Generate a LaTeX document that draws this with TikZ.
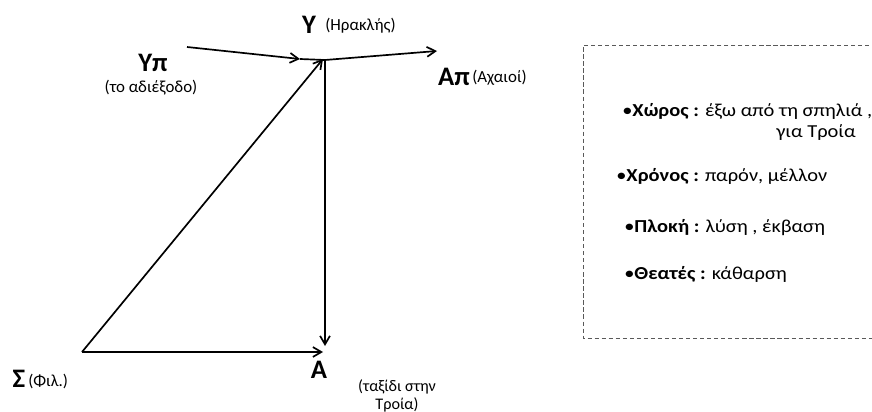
\documentclass[tikz,border=0pt]{standalone}
\usepackage{fontspec}
\setmainfont{Carlito}
\newfontfamily\boxfont[FakeStretch=1.12]{Carlito}
\usetikzlibrary{arrows.meta}
\begin{document}
\begin{tikzpicture}[x=0.025cm,y=-0.025cm,
  big/.style={font=\fontsize{19}{21}\selectfont\bfseries,inner sep=0pt},
  note/.style={font=\fontsize{12}{14}\selectfont,inner sep=0pt},
  item/.style={font=\boxfont\fontsize{13}{15}\selectfont,inner sep=0pt,anchor=west},
  ln/.style={line width=1.2pt},
  arr/.style={ln,-{Straight Barb[length=6pt,width=7pt,line width=1.2pt]}}]
\useasboundingbox (0,0) rectangle (872,412);
% points of the diagram
\coordinate (Y0) at (325,60);
\coordinate (S0) at (82,352);
\coordinate (A0) at (325,346);
\coordinate (A1) at (323,352);
\coordinate (Y1) at (323,59);
\coordinate (P0) at (187,47);
\coordinate (P1) at (300,59);
\coordinate (AP0) at (437,51);
% labels
\node[big] (y) at (309,25) {Υ};
\node[note,anchor=west] (ynote) at (325,26) {(Ηρακλής)};
\node[big] (yp) at (153,63) {Υπ};
\node[note] (ypnote) at (151,88) {(το αδιέξοδο)};
\node[big] (ap) at (454,77) {Απ};
\node[note,anchor=west] (apnote) at (472,78) {(Αχαιοί)};
\node[big] (s) at (19,379) {Σ};
\node[note,anchor=west] (snote) at (28,381) {(Φιλ.)};
\node[big] (a) at (319,370) {Α};
\node[note,font=\fontsize{11.5}{12.5}\selectfont,align=center,anchor=south] (anote) at (397,412) {(ταξίδι στην\\Τροία)};
% connectors
\draw[arr] (P0) -- (P1);
\draw[ln] (P1) -- (Y0);
\draw[arr] (Y0) -- (AP0);
\draw[arr] (S0) -- (Y1);
\draw[arr] (Y0) -- (A0);
\draw[arr] (S0) -- (A1);
% box on the right
\draw[densely dashed,gray!70!black,line width=0.5pt] (876,45) -- (583,45) -- (583,338) -- (876,338);
\node[item] (place) at (622,111) {•\textbf{Χώρος :} έξω από τη σπηλιά ,};
\node[item,anchor=east] (place2) at (856,133) {για Τροία};
\node[item] (time) at (616,176) {•\textbf{Χρόνος :} παρόν, μέλλον};
\node[item] (plot) at (624,228) {•\textbf{Πλοκή :} λύση , έκβαση};
\node[item] (crowd) at (624,274) {•\textbf{Θεατές :} κάθαρση};
\end{tikzpicture}
\end{document}
